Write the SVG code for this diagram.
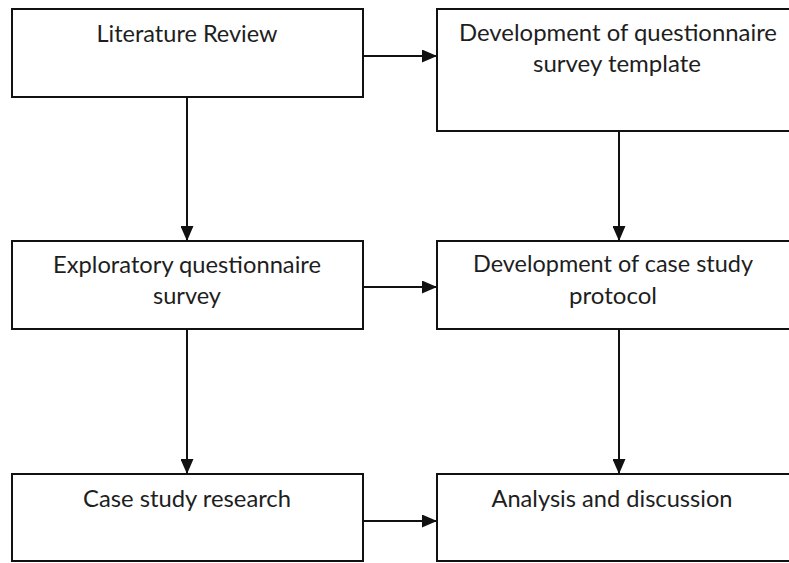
<svg xmlns="http://www.w3.org/2000/svg" width="789" height="563" viewBox="0 0 789 563">
<style>
.box{fill:#fff;stroke:#111;stroke-width:2}
.lbl{font-family:Lato,"Open Sans","Liberation Sans",sans-serif;font-size:23px;fill:#1e1e1e;text-anchor:middle}
.con{stroke:#111;stroke-width:2;fill:none;marker-end:url(#ah)}
</style>
<defs>
<marker id="ah" markerUnits="userSpaceOnUse" markerWidth="15" markerHeight="13" refX="15" refY="6.5" orient="auto">
<path d="M0,0 L15,6.5 L0,13 z" fill="#111"/>
</marker>
</defs>
<rect width="789" height="563" fill="#fff"/>
<g id="connectors">
<line class="con" x1="363" y1="56" x2="437" y2="56"/>
<line class="con" x1="187" y1="97" x2="187" y2="241"/>
<line class="con" x1="619" y1="131" x2="619" y2="241"/>
<line class="con" x1="363" y1="287" x2="437" y2="287"/>
<line class="con" x1="187" y1="329" x2="187" y2="474"/>
<line class="con" x1="619" y1="329" x2="619" y2="474"/>
<line class="con" x1="363" y1="521" x2="437" y2="521"/>
</g>
<g id="literature-review">
<rect class="box" x="12" y="9" width="351" height="88"/>
<text class="lbl" x="187" y="42" textLength="181" lengthAdjust="spacingAndGlyphs">Literature Review</text>
</g>
<g id="questionnaire-template">
<rect class="box" x="437" y="9" width="354" height="122"/>
<text class="lbl" x="618" y="41" textLength="318" lengthAdjust="spacingAndGlyphs">Development of questionnaire</text>
<text class="lbl" x="617" y="72" textLength="168" lengthAdjust="spacingAndGlyphs">survey template</text>
</g>
<g id="exploratory-survey">
<rect class="box" x="12" y="241" width="351" height="88"/>
<text class="lbl" x="187" y="273" textLength="268" lengthAdjust="spacingAndGlyphs">Exploratory questionnaire</text>
<text class="lbl" x="187" y="304" textLength="68" lengthAdjust="spacingAndGlyphs">survey</text>
</g>
<g id="case-study-protocol">
<rect class="box" x="437" y="241" width="354" height="88"/>
<text class="lbl" x="613" y="272" textLength="280" lengthAdjust="spacingAndGlyphs">Development of case study</text>
<text class="lbl" x="613" y="304" textLength="88" lengthAdjust="spacingAndGlyphs">protocol</text>
</g>
<g id="case-study-research">
<rect class="box" x="12" y="474" width="351" height="87"/>
<text class="lbl" x="187" y="507" textLength="208" lengthAdjust="spacingAndGlyphs">Case study research</text>
</g>
<g id="analysis-discussion">
<rect class="box" x="437" y="474" width="354" height="87"/>
<text class="lbl" x="612" y="507" textLength="241" lengthAdjust="spacingAndGlyphs">Analysis and discussion</text>
</g>
</svg>
